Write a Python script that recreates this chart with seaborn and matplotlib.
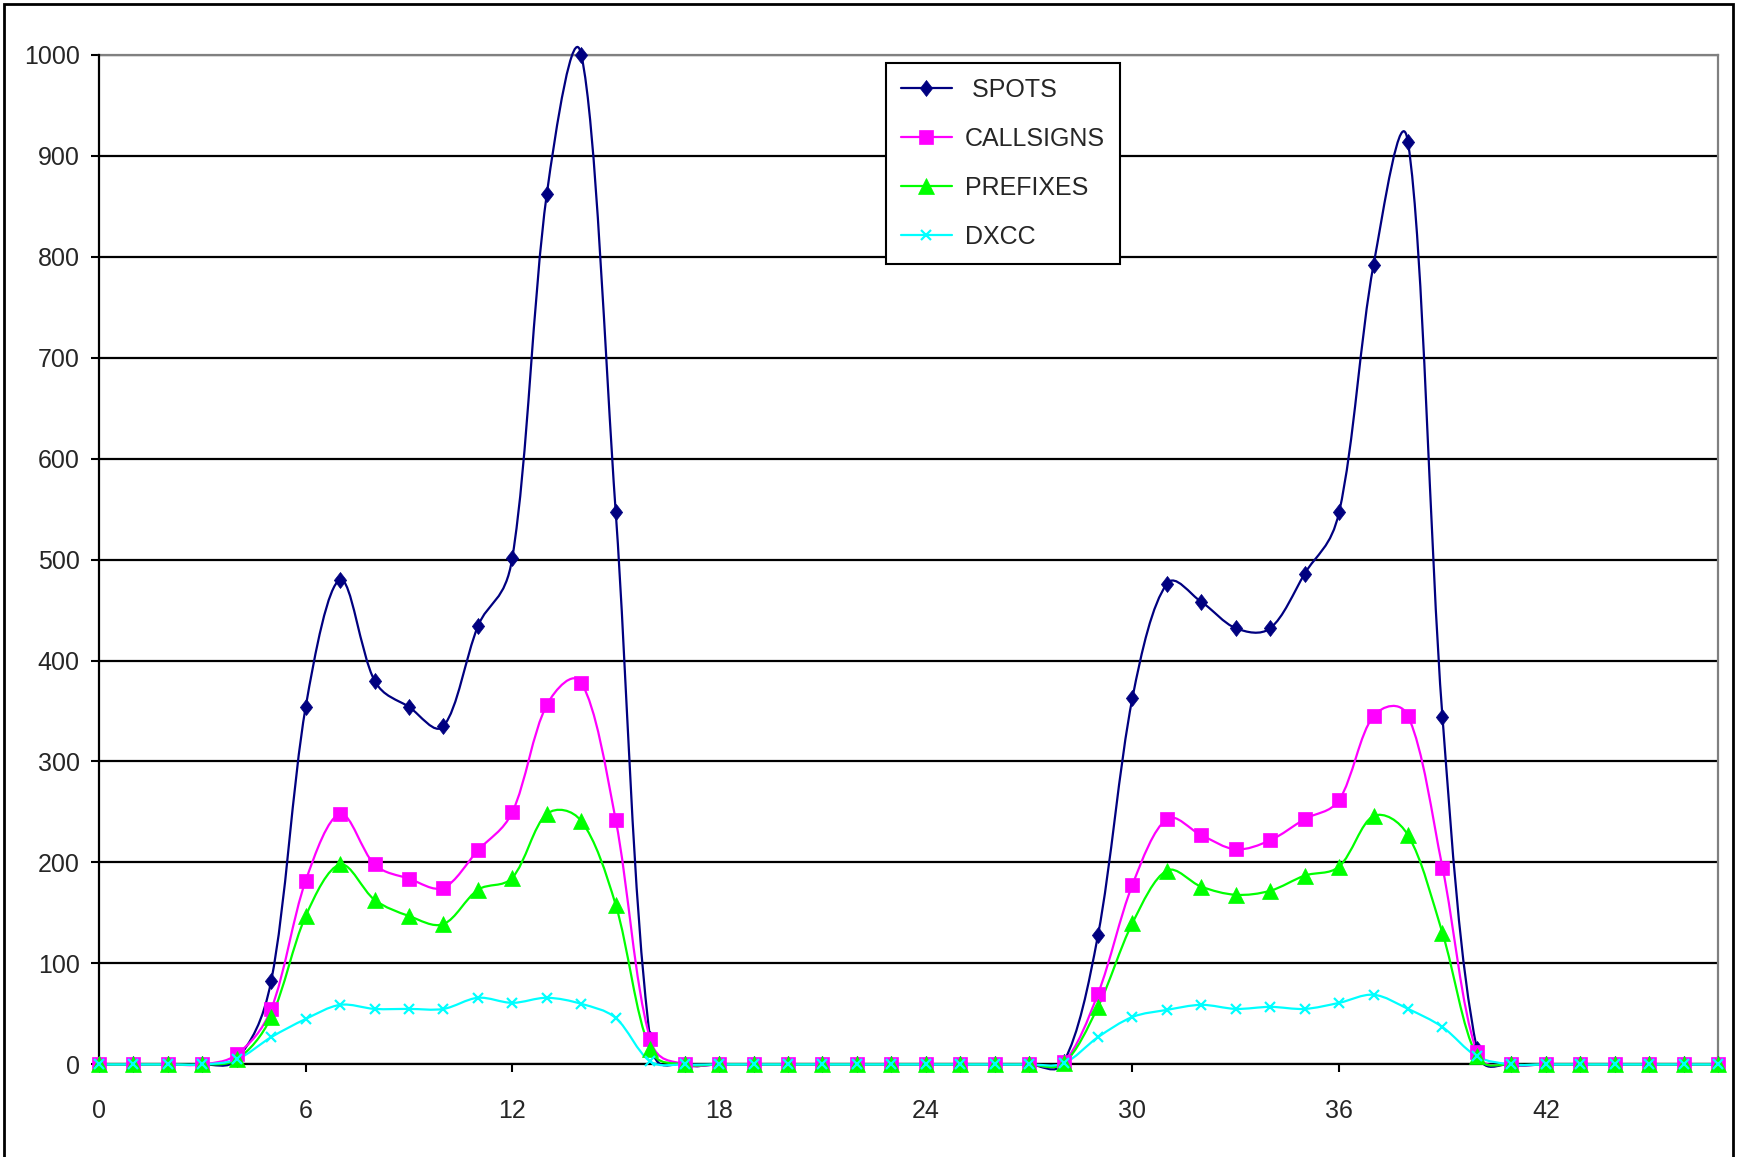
import matplotlib
matplotlib.use("Agg")
import matplotlib.pyplot as plt
from matplotlib.path import Path
from matplotlib.patches import PathPatch, Rectangle
from matplotlib.lines import Line2D
import seaborn as sns
import numpy as np

# hour slots (two days, 0..47)
hours = list(range(48))

spots = [0, 0, 0, 0, 5, 83, 354, 480, 380, 354, 335, 434, 502, 862, 1000, 547, 25,
         0, 0, 0, 0, 0, 0, 0, 0, 0, 0, 0, 2, 128, 363, 476, 458, 432, 432, 486, 547,
         792, 913, 344, 15, 0, 0, 0, 0, 0, 0, 0]
callsigns = [0, 0, 0, 0, 10, 55, 182, 248, 198, 184, 175, 212, 250, 356, 378, 242, 25,
             0, 0, 0, 0, 0, 0, 0, 0, 0, 0, 0, 2, 70, 178, 243, 227, 213, 222, 243, 262,
             345, 345, 195, 12, 0, 0, 0, 0, 0, 0, 0]
prefixes = [0, 0, 0, 0, 5, 47, 147, 198, 163, 147, 139, 173, 185, 248, 241, 158, 15,
            0, 0, 0, 0, 0, 0, 0, 0, 0, 0, 0, 1, 57, 140, 192, 176, 168, 172, 187, 196,
            246, 227, 130, 8, 0, 0, 0, 0, 0, 0, 0]
dxcc = [0, 0, 0, 0, 5, 27, 45, 59, 55, 55, 55, 66, 61, 66, 60, 46, 3,
        0, 0, 0, 0, 0, 0, 0, 0, 0, 0, 0, 1, 27, 47, 54, 59, 55, 57, 55, 61,
        69, 55, 37, 8, 0, 0, 0, 0, 0, 0, 0]

DIAMOND = [(0, 1), (0.77, 0), (0, -1), (-0.77, 0), (0, 1)]

series = [
    (" SPOTS", spots, "#000080", DIAMOND, 11.5, 0.5),
    ("CALLSIGNS", callsigns, "#FF00FF", "s", 9.5, 0.5),
    ("PREFIXES", prefixes, "#00FF00", "^", 12, 0.5),
    ("DXCC", dxcc, "#00FFFF", "x", 7, 1.6),
]

FONT = ["Liberation Sans", "DejaVu Sans"]
FS = 18


def smooth_path(ax, xs, ys):
    # Excel style smoothed line: bezier segments, tangents weighted by segment length
    pts = np.column_stack([xs, ys]).astype(float)
    disp = ax.transData.transform(pts)
    n = len(pts)
    verts = [tuple(pts[0])]
    codes = [Path.MOVETO]
    for i in range(n - 1):
        i0, i3 = max(i - 1, 0), min(i + 2, n - 1)
        p0, p1, p2, p3 = pts[i0], pts[i], pts[i + 1], pts[i3]
        d01 = np.sqrt(np.hypot(*(disp[i] - disp[i0])))
        d12 = np.sqrt(np.hypot(*(disp[i + 1] - disp[i])))
        d23 = np.sqrt(np.hypot(*(disp[i3] - disp[i + 1])))
        w1 = d12 / (d01 + d12) if d01 + d12 > 0 else 0.5
        w2 = d12 / (d12 + d23) if d12 + d23 > 0 else 0.5
        c1 = p1 + (p2 - p0) * w1 / 3
        c2 = p2 - (p3 - p1) * w2 / 3
        verts += [tuple(c1), tuple(c2), tuple(p2)]
        codes += [Path.CURVE4] * 3
    return Path(verts, codes)


sns.set_theme(style="white")
plt.rcParams["font.family"] = FONT

fig = plt.figure(figsize=(17.46, 11.57), dpi=100)
ax = fig.add_axes([0.0567, 0.080, 0.9273, 0.8728])
ax.set_xlim(0, 47)
ax.set_ylim(0, 1000)

handles = []
for label, vals, color, mk, ms, mew in series:
    patch = PathPatch(smooth_path(ax, hours, vals), facecolor="none", edgecolor=color,
                      lw=1.6, transform=ax.transData, clip_on=False, zorder=3)
    ax.add_patch(patch)
    sns.lineplot(x=hours, y=vals, ax=ax, color=color, marker=mk, markersize=ms,
                 linestyle="none", markeredgecolor=color, markeredgewidth=mew,
                 clip_on=False, zorder=4)
    handles.append(Line2D([], [], color=color, marker=mk, markersize=ms, lw=1.6,
                          markeredgecolor=color, markeredgewidth=mew, label=label))

ax.set_xlim(0, 47)
ax.set_ylim(0, 1000)
ax.set_xticks(range(0, 47, 6))
ax.set_yticks(range(0, 1001, 100))
ax.set_xlabel("")
ax.set_ylabel("")

ax.yaxis.grid(True, color="black", lw=1.6)
ax.xaxis.grid(False)
ax.set_axisbelow(True)
for side in ["top", "right"]:
    ax.spines[side].set_color("#808080")
    ax.spines[side].set_linewidth(1.6)
for side in ["left", "bottom"]:
    ax.spines[side].set_color("black")
    ax.spines[side].set_linewidth(1.6)
    ax.spines[side].set_zorder(2.6)

ax.tick_params(axis="y", direction="out", length=6, width=1.5, color="black",
               pad=8, labelsize=FS, left=True)
ax.tick_params(axis="x", direction="out", length=6, width=1.5, color="black",
               pad=19, labelsize=FS, bottom=True)

leg = ax.legend(handles=handles, loc="upper left", bbox_to_anchor=(0.486, 0.9917),
                borderaxespad=0, fontsize=FS, frameon=True, fancybox=False,
                edgecolor="black", handlelength=2.05, handletextpad=0.5,
                labelspacing=1.0, borderpad=0.6)
leg.get_frame().set_linewidth(1.5)
leg.get_frame().set_alpha(1)

fig.patches.append(Rectangle((0.0025, -0.01), 0.9925 - 0.0025, 0.9965 + 0.01,
                             transform=fig.transFigure, fill=False,
                             edgecolor="black", lw=2))

fig.savefig("out.png", dpi=100, facecolor="white")
